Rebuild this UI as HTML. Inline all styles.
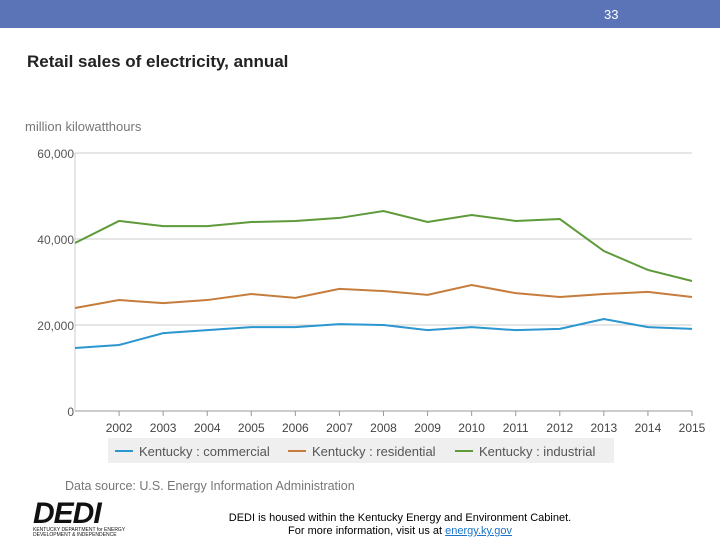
<!DOCTYPE html>
<html><head><meta charset="utf-8"><style>
body{margin:0;width:720px;height:540px;background:#fff;overflow:hidden;font-family:"Liberation Sans",sans-serif;position:relative}
.a{position:absolute}
</style></head><body>
<div class="a" style="left:0;top:0;width:720px;height:28px;background:#5b74b7"></div>
<div class="a" style="left:604px;top:7px;color:#fff;font-size:13px">33</div>
<div class="a" style="left:27px;top:52px;font-size:17px;font-weight:bold;color:#222">Retail sales of electricity, annual</div>
<div class="a" style="left:25px;top:119px;font-size:13px;color:#777">million kilowatthours</div>
<div class="a" style="left:108px;top:438px;width:506px;height:25px;background:#efefef"></div>
<svg class="a" style="left:0;top:0" width="720" height="540" id="chart"></svg>
<div class="a" style="left:65px;top:479px;font-size:12.5px;color:#777">Data source: U.S. Energy Information Administration</div>
<div class="a" style="left:33px;top:500px;width:100px;height:38px">
<div style="font-size:30px;font-weight:bold;font-style:italic;color:#111;line-height:28px;letter-spacing:-1px">DEDI</div>
<div style="font-size:5px;color:#111;line-height:5px">KENTUCKY DEPARTMENT for ENERGY<br>DEVELOPMENT &amp; INDEPENDENCE</div></div>
<div class="a" style="left:200px;top:512px;width:400px;text-align:center;font-size:11px;line-height:13px;color:#000">DEDI is housed within the Kentucky Energy and Environment Cabinet.<br>For more information, visit us at <span style="color:#1a75c9;text-decoration:underline">energy.ky.gov</span></div>
<script>
const years=[2001,2002,2003,2004,2005,2006,2007,2008,2009,2010,2011,2012,2013,2014,2015];
const commercial=[14650,15350,18100,18800,19500,19500,20200,20000,18800,19500,18800,19100,21400,19500,19100];
const residential=[23950,25800,25100,25800,27200,26300,28400,27900,27000,29300,27400,26500,27200,27700,26500];
const industrial=[39070,44200,43000,43000,43950,44200,44900,46500,43950,45580,44200,44650,37200,32800,30230];
const yTicks=[0,20000,40000,60000];
const yTickLabels=["0","20,000","40,000","60,000"];
const xTickYears=[2002,2003,2004,2005,2006,2007,2008,2009,2010,2011,2012,2013,2014,2015];
const seriesNames=["Kentucky : commercial","Kentucky : residential","Kentucky : industrial"];
const colors=["#2b96cf","#c57c3c","#5e9a3a"];
const svg=document.getElementById('chart');const NS="http://www.w3.org/2000/svg";
const x=v=>75+(v-2001)*(692-75)/14;
const y=v=>411-v*(411-153)/60000;
function mk(t,a){const e=document.createElementNS(NS,t);for(const k in a)e.setAttribute(k,a[k]);svg.appendChild(e);return e;}
yTicks.forEach((t,i)=>{
 const g=mk('line',{x1:75,x2:692,y1:y(t),y2:y(t),stroke:t===0?'#999':'#ccc','stroke-width':1});
 
 
 const l=mk('text',{x:74,y:y(t)+5,'text-anchor':'end','font-size':12,fill:'#555','font-family':'Liberation Sans'});
 l.textContent=yTickLabels[i];
 
 
});
const ax=mk('line',{x1:75,x2:75,y1:153,y2:411,stroke:'#ccc'});


xTickYears.forEach(v=>{
 const tk=mk('line',{x1:x(v),x2:x(v),y1:411,y2:416,stroke:'#999'});
 
 
 const l=mk('text',{x:x(v),y:432,'text-anchor':'middle','font-size':12,fill:'#444','font-family':'Liberation Sans'});
 l.textContent=v;
 
 
});
[commercial,residential,industrial].forEach((s,i)=>{
 const p=mk('polyline',{points:s.map((v,j)=>x(years[j])+','+y(v)).join(' '),fill:'none',stroke:colors[i],'stroke-width':2});
 
 
});
const lx=[115,288,455];
seriesNames.forEach((n,i)=>{
 const l=mk('line',{x1:lx[i],x2:lx[i]+18,y1:451,y2:451,stroke:colors[i],'stroke-width':2});
 
 
 const t=mk('text',{x:lx[i]+24,y:456,'font-size':13,fill:'#555','font-family':'Liberation Sans'});
 t.textContent=n;
 
 
});
</script>
</body></html>
